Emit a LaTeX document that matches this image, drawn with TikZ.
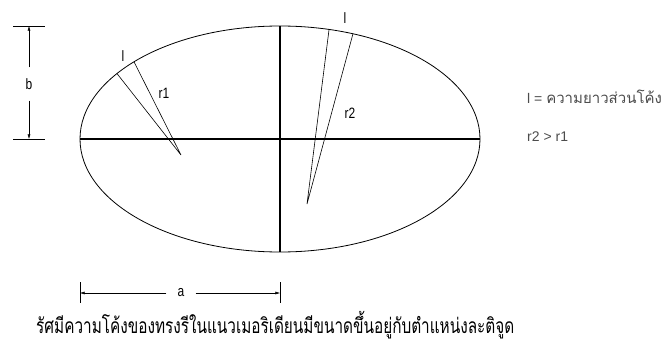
\documentclass[tikz,border=0pt]{standalone}
\usepackage{fontspec}
\setmainfont{Liberation Sans}
\newfontfamily\narrowfont[FakeStretch=0.8]{Liberation Sans}
\newfontfamily\thaifont[Script=Thai]{Loma}
\newfontfamily\thaicapfont[Script=Thai,FakeStretch=0.73]{Loma}
\usetikzlibrary{arrows.meta,calc}

\begin{document}
\begin{tikzpicture}[x=1pt,y=-1pt,
  dim/.style={-{Latex[length=5pt,width=3pt]},line width=0.6pt,shorten >=-0.3pt},
  tick/.style={line width=0.9pt},
  ray/.style={line width=0.6pt},
  lbl/.style={font=\narrowfont\fontsize{15}{17}\selectfont,inner sep=1pt},
  note/.style={font=\fontsize{14}{16}\selectfont,text=black!70,anchor=base west,inner sep=0pt}]
  \useasboundingbox (0,0) rectangle (672,342);
  \def\a{200}
  \def\b{113}
  \coordinate (O) at (280,139);

  % ellipse and axes
  \draw[line width=0.8pt] (O) ellipse ({\a} and {\b});
  \coordinate (W) at ($(O)+(-\a,0)$);
  \coordinate (E) at ($(O)+(\a,0)$);
  \coordinate (N) at ($(O)+(0,-\b)$);
  \coordinate (S) at ($(O)+(0,\b)$);
  \draw[line width=1.1pt] (W) -- (E);
  \draw[line width=1.1pt] (N) -- (S);

  % radius r1
  \coordinate (p1) at ($(O)+(-144.6:{\a} and {\b})$);
  \coordinate (p2) at ($(O)+(-136.9:{\a} and {\b})$);
  \coordinate (c1) at (181,155);
  \draw[ray] (p1) -- (c1) -- (p2);
  \node[lbl] (l1) at (123,56) {l};
  \node[lbl] (r1) at (164,93) {r1};

  % radius r2
  \coordinate (q1) at ($(O)+(-75.8:{\a} and {\b})$);
  \coordinate (q2) at ($(O)+(-68.6:{\a} and {\b})$);
  \coordinate (c2) at (307,204);
  \draw[ray] (q1) -- (c2) -- (q2);
  \node[lbl] (l2) at (345,18) {l};
  \node[lbl] (r2) at (350,113) {r2};

  % dimension b
  \coordinate (btop) at (29,26);
  \coordinate (bbot) at (29,139);
  \draw[tick] (13,26) -- (45,26);
  \draw[tick] (13,139) -- (45,139);
  \node[lbl,inner ysep=11pt] (blab) at (29,84) {b};
  \draw[dim] (blab) -- (btop);
  \draw[dim] (blab) -- (bbot);

  % dimension a
  \coordinate (aleft) at (80,293);
  \coordinate (aright) at (280,293);
  \draw[tick] (80,282) -- (80,303);
  \draw[tick] (280,282) -- (280,303);
  \node[lbl,inner xsep=11pt] (alab) at (181,293) {a};
  \draw[dim] (alab) -- (aleft);
  \draw[dim] (alab) -- (aright);

  % notes
  \node[note] (def) at (527,104) {l = {\thaifont\fontsize{15}{17}\selectfont ความยาวส่วนโค้ง}};
  \node[note] (cmp) at (527,142) {r2 > r1};
  \node[anchor=base west,inner sep=0pt,font=\thaicapfont\fontsize{21}{23}\selectfont] (cap) at (36,333)
    {รัศมีความโค้งของทรงรีในแนวเมอริเดียนมีขนาดขึ้นอยู่กับตำแหน่งละติจูด};
\end{tikzpicture}
\end{document}
